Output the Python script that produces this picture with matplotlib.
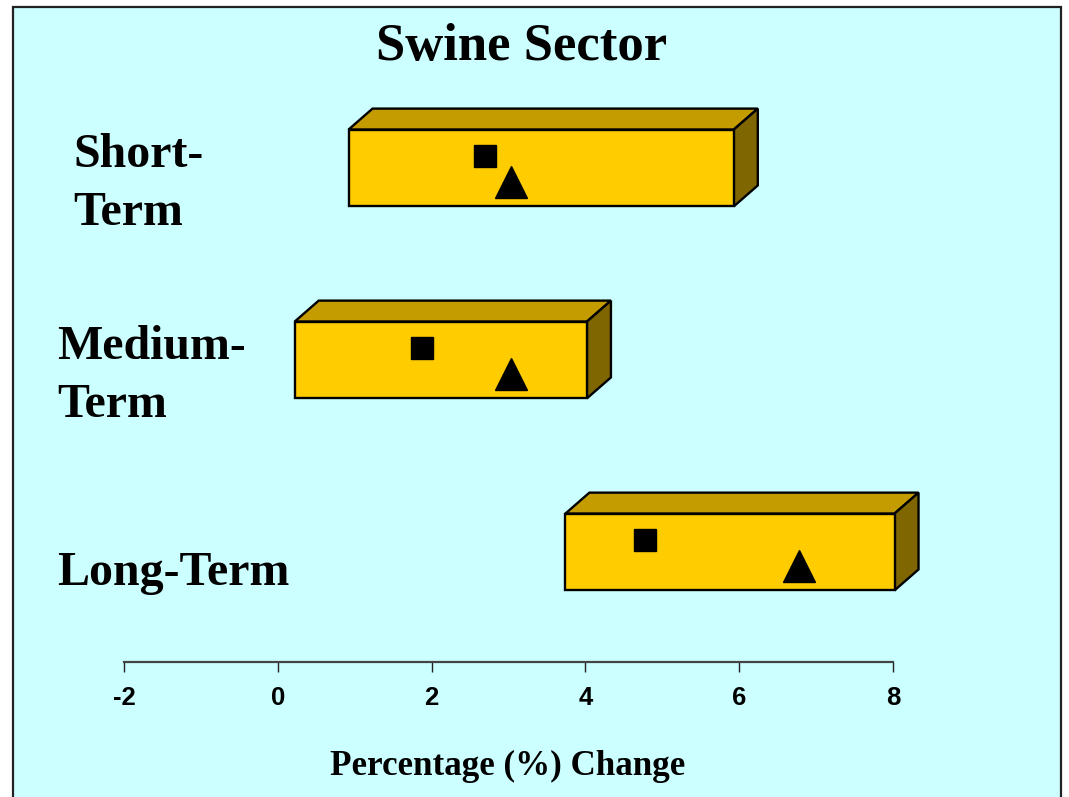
import matplotlib
matplotlib.use("Agg")
import matplotlib.pyplot as plt
from matplotlib.patches import Rectangle, Polygon

# forecast ranges for the swine sector, % change
categories = ["Short-Term", "Medium-Term", "Long-Term"]
range_low = [0.92, 0.22, 3.74]
range_high = [5.93, 4.02, 8.02]
square_vals = [2.69, 1.87, 4.78]
triangle_vals = [3.03, 3.03, 6.78]
x_ticks = [-2, 0, 2, 4, 6, 8]

W, H = 1069, 797
BG = "#CCFFFF"
FRONT = "#FFCC00"
TOP = "#C49C00"
SIDE = "#806600"
SERIF = ["Liberation Serif", "DejaVu Serif"]


def fx(px):
    return px / W


def fy(py):
    return 1 - py / H


fig = plt.figure(figsize=(W / 100, H / 100), dpi=100)
fig.patch.set_facecolor("white")

# cyan panel with border, running off the bottom edge
panel = Rectangle((fx(13), fy(820)), fx(1061) - fx(13), fy(7) - fy(820),
                  transform=fig.transFigure, facecolor=BG, edgecolor="#222222",
                  linewidth=1.6, zorder=-10)
fig.patches.append(panel)

ax = fig.add_axes([fx(124), fy(662), fx(893) - fx(124), fy(80) - fy(662)])
ax.set_facecolor("none")
ax.set_xlim(-2, 8)
ax.set_ylim(-0.573, 2.458)

h = 0.40     # front face height
dx = 0.312   # depth offset in x
dy = 0.109   # depth offset in y

for i, name in enumerate(categories):
    y = len(categories) - 1 - i
    lo, hi = range_low[i], range_high[i]
    yb, yt = y - h / 2, y + h / 2
    top = Polygon([(lo, yt), (lo + dx, yt + dy), (hi + dx, yt + dy), (hi, yt)],
                  closed=True, facecolor=TOP, edgecolor="black", lw=1.7, clip_on=False)
    side = Polygon([(hi, yb), (hi + dx, yb + dy), (hi + dx, yt + dy), (hi, yt)],
                   closed=True, facecolor=SIDE, edgecolor="black", lw=1.7, clip_on=False)
    front = Rectangle((lo, yb), hi - lo, h, facecolor=FRONT, edgecolor="black",
                      lw=1.7, clip_on=False)
    for p in (top, side, front):
        ax.add_patch(p)
    ax.plot(square_vals[i], y + 0.0625, marker="s", ms=15.8, color="black",
            ls="none", clip_on=False, zorder=5)
    ax.plot(triangle_vals[i], y - 0.073, marker="^", ms=23.5, color="black",
            ls="none", clip_on=False, zorder=5)

for s in ("top", "right", "left"):
    ax.spines[s].set_visible(False)
ax.spines["bottom"].set_color("#444444")
ax.spines["bottom"].set_linewidth(1.6)
ax.set_yticks([])
ax.set_xticks(x_ticks)
ax.set_xticklabels([str(t) for t in x_ticks],
                   fontfamily=["Liberation Sans Narrow", "Liberation Sans"],
                   fontweight="bold", fontsize=18.5)
ax.tick_params(axis="x", direction="out", length=7.5, width=1.0, color="#222222",
               pad=10)

# category labels on the left
label_lines = [
    [("Short-", 73, 167), ("Term", 73, 225)],
    [("Medium-", 57, 359), ("Term", 57, 417)],
    [("Long-Term", 57, 585)],
]
for lines in label_lines:
    for txt, px, py in lines:
        fig.text(fx(px), fy(py), txt, fontfamily=SERIF, fontweight="bold",
                 fontsize=34.5, ha="left", va="baseline")

fig.text(fx(522), fy(60), "Swine Sector", fontfamily=SERIF, fontweight="bold",
         fontsize=38, ha="center", va="baseline")
fig.text(fx(508), fy(775), "Percentage (%) Change", fontfamily=SERIF,
         fontweight="bold", fontsize=25.2, ha="center", va="baseline")

fig.savefig("out.png", dpi=100, facecolor=fig.get_facecolor())
